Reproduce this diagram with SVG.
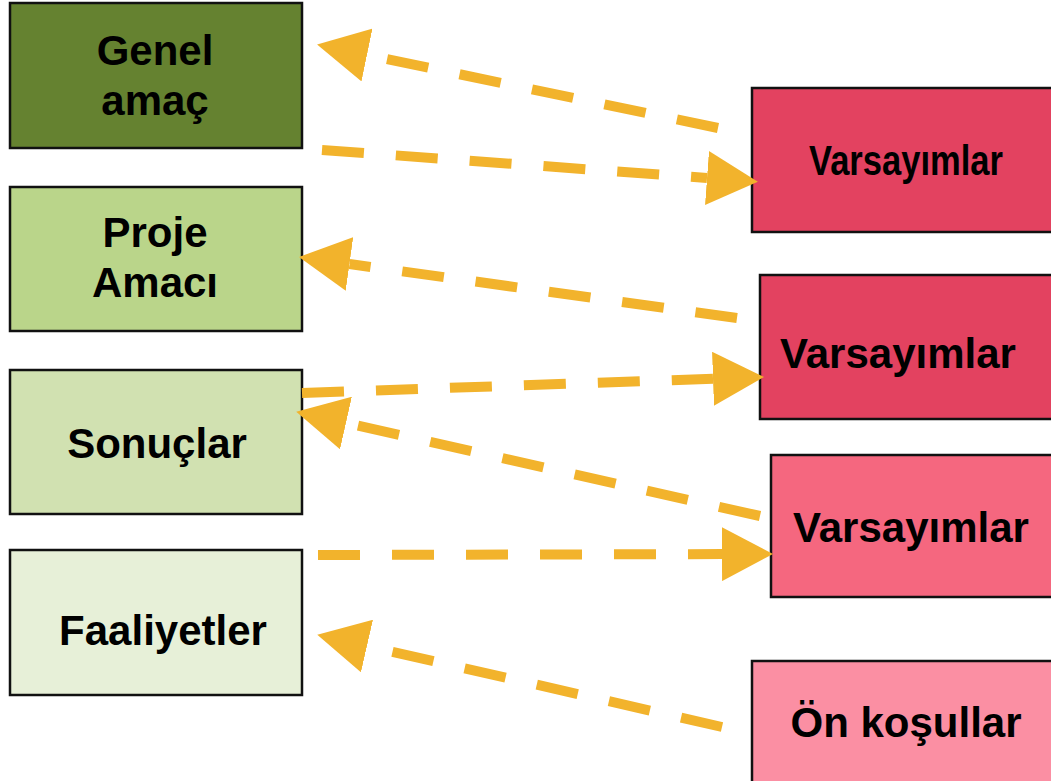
<svg xmlns="http://www.w3.org/2000/svg" width="1051" height="781" viewBox="0 0 1051 781">
<style>
.box{stroke:#111;stroke-width:2.5}
.t{font-family:"Liberation Sans",Arial,sans-serif;font-weight:bold;font-size:42px;fill:#000;text-anchor:middle}
.c{fill:none;stroke:#f2b32c;stroke-width:10;stroke-dasharray:42 32}
</style>
<defs>
<marker id="ah" markerUnits="userSpaceOnUse" markerWidth="52" markerHeight="54" refX="0" refY="27" orient="auto" viewBox="0 0 52 54">
<path d="M0,0 L51,27 L0,54 z" fill="#f2b32c"/>
</marker>
</defs>
<rect width="1051" height="781" fill="#fff"/>
<g id="genel-amac">
<rect class="box" x="10" y="3" width="292" height="145" fill="#658230"/>
<text class="t" x="155" y="65">Genel</text>
<text class="t" x="155" y="115">amaç</text>
</g>
<g id="proje-amaci">
<rect class="box" x="10" y="187" width="292" height="144" fill="#bad58a"/>
<text class="t" x="155" y="247">Proje</text>
<text class="t" x="155" y="297">Amacı</text>
</g>
<g id="sonuclar">
<rect class="box" x="10" y="370" width="292" height="144" fill="#d1e1b1"/>
<text class="t" x="157" y="458">Sonuçlar</text>
</g>
<g id="faaliyetler">
<rect class="box" x="10" y="550" width="292" height="145" fill="#e7f0d8"/>
<text class="t" x="163" y="645">Faaliyetler</text>
</g>
<g id="varsayimlar-1">
<rect class="box" x="752" y="88" width="310" height="144" fill="#e34260"/>
<text class="t" x="906" y="175" font-size="38" textLength="194" lengthAdjust="spacingAndGlyphs">Varsayımlar</text>
</g>
<g id="varsayimlar-2">
<rect class="box" x="760" y="275" width="300" height="144" fill="#e34260"/>
<text class="t" x="898" y="368">Varsayımlar</text>
</g>
<g id="varsayimlar-3">
<rect class="box" x="771" y="455" width="290" height="142" fill="#f5677f"/>
<text class="t" x="911" y="542">Varsayımlar</text>
</g>
<g id="on-kosullar">
<rect class="box" x="752" y="661" width="310" height="130" fill="#fb8fa3"/>
<text class="t" x="906" y="737">Ön koşullar</text>
</g>
<g id="connectors">
<line class="c" x1="718" y1="128" x2="367" y2="55" marker-end="url(#ah)"/>
<line class="c" x1="322" y1="150" x2="707" y2="178" marker-end="url(#ah)"/>
<line class="c" x1="737" y1="318" x2="349.5" y2="264" marker-end="url(#ah)"/>
<line class="c" x1="302" y1="393" x2="713" y2="378.7" marker-end="url(#ah)"/>
<line class="c" x1="760" y1="516" x2="346" y2="423" marker-end="url(#ah)"/>
<line class="c" x1="318" y1="555" x2="722" y2="554.1" marker-end="url(#ah)"/>
<line class="c" x1="722" y1="727" x2="367" y2="646" marker-end="url(#ah)"/>
</g>
</svg>
